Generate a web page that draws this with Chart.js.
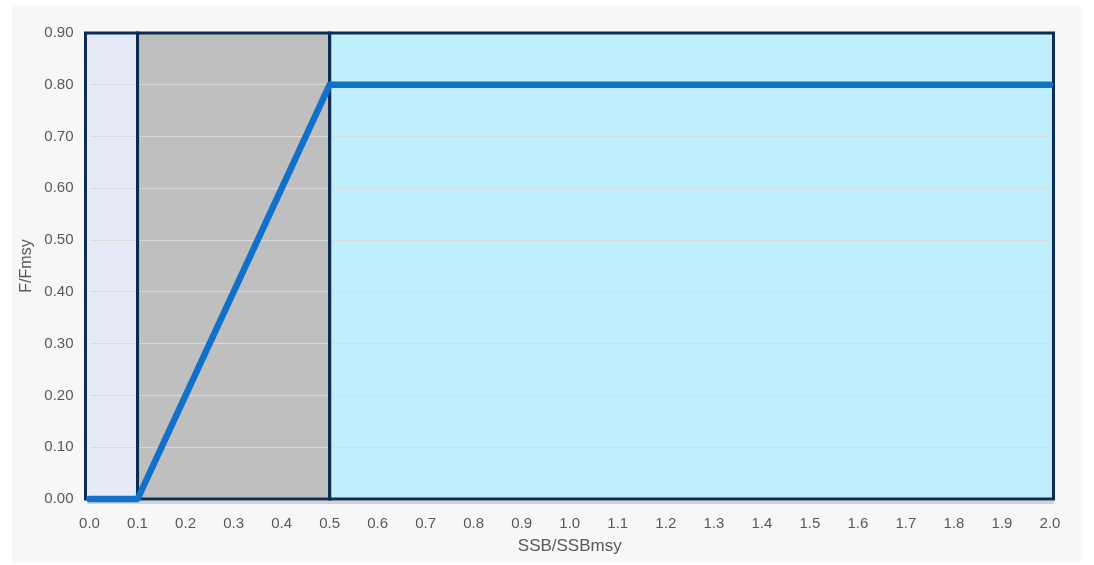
<!DOCTYPE html>
<html>
<head>
<meta charset="utf-8">
<script src="https://cdn.jsdelivr.net/npm/chart.js@4.4.0/dist/chart.umd.min.js"></script>
<style>
  html, body { margin: 0; padding: 0; background: #fff; }
  #wrap { width: 1094px; height: 565px; position: relative; }
</style>
</head>
<body>
<div id="wrap"><canvas id="hcrChart"></canvas></div>
<script>
// harvest control rule: F/Fmsy against SSB/SSBmsy
const ssbPoints = [0, 0.1, 0.5, 2.0];
const fPoints = [0, 0, 0.8, 0.8];

// shaded zones (SSB/SSBmsy ranges)
const zoneStart = [0, 0.1, 0.5];
const zoneEnd = [0.1, 0.5, 2.0];
const zoneColors = ['#E6EAF6', '#BFBFBF', '#BFEFFD'];

const yMax = 0.9;
const xMax = 2.0;

// outer zone edges sit a few px outside the first/last tick (excel style)
function zoneEdges(x, i) {
    let l = x.getPixelForValue(zoneStart[i]);
    let r = x.getPixelForValue(zoneEnd[i]);
    if (zoneStart[i] === 0) l -= 4;
    if (zoneEnd[i] === xMax) r += 3.5;
    return [l, r];
}

const zonesPlugin = {
    id: 'zones',
    beforeDraw(chart) {
        const ctx = chart.ctx;
        ctx.save();
        // faint panel background
        ctx.fillStyle = '#F7F7F7';
        ctx.fillRect(12, 6, 1070, 556);
        const x = chart.scales.x, y = chart.scales.y;
        const top = y.getPixelForValue(yMax), bottom = y.getPixelForValue(0);
        // soft shadow under the plot
        ctx.fillStyle = '#D2D2D2';
        ctx.fillRect(x.getPixelForValue(0) - 2, bottom + 2, x.getPixelForValue(xMax) - x.getPixelForValue(0) + 6, 3);
        for (let i = 0; i < zoneStart.length; i++) {
            const [l, r] = zoneEdges(x, i);
            ctx.fillStyle = zoneColors[i];
            ctx.fillRect(l, top, r - l, bottom - top);
        }
        ctx.restore();
    },
    beforeDatasetsDraw(chart) {
        const ctx = chart.ctx;
        const x = chart.scales.x, y = chart.scales.y;
        const top = y.getPixelForValue(yMax), bottom = y.getPixelForValue(0);
        ctx.save();
        ctx.strokeStyle = '#0C2C52';
        ctx.lineWidth = 3;
        for (let i = 0; i < zoneStart.length; i++) {
            const [l, r] = zoneEdges(x, i);
            ctx.strokeRect(l, top, r - l, bottom - top);
        }
        ctx.restore();
    }
};

const fontFamily = "'Liberation Sans', Arial, sans-serif";

new Chart(document.getElementById('hcrChart'), {
    type: 'line',
    data: {
        datasets: [{
            data: ssbPoints.map((v, i) => ({ x: v, y: fPoints[i] })),
            borderColor: '#1170C9',
            borderWidth: 6.5,
            borderCapStyle: 'round',
            borderJoinStyle: 'round',
            pointRadius: 0,
            fill: false,
            tension: 0,
            clip: false
        }]
    },
    options: {
        responsive: true,
        maintainAspectRatio: false,
        animation: false,
        layout: { padding: { left: 0, right: 44, top: 33, bottom: 4 } },
        plugins: { legend: { display: false }, tooltip: { enabled: false } },
        scales: {
            x: {
                type: 'linear',
                min: 0,
                max: xMax,
                ticks: {
                    stepSize: 0.1,
                    color: '#595959',
                    font: { family: fontFamily, size: 15 },
                    padding: 8,
                    maxRotation: 0,
                    autoSkip: false,
                    callback: v => v.toFixed(1)
                },
                grid: { display: false },
                border: { display: false },
                title: { display: true, text: 'SSB/SSBmsy', color: '#595959', font: { family: fontFamily, size: 17 }, padding: { top: 2, bottom: 4 } },
                afterFit(scale) { scale.height = 62; }
            },
            y: {
                min: 0,
                max: yMax,
                ticks: {
                    stepSize: 0.1,
                    color: '#595959',
                    font: { family: fontFamily, size: 15 },
                    padding: 16,
                    callback: v => v.toFixed(2)
                },
                grid: { color: '#D9D9D9', lineWidth: 1, drawTicks: false },
                border: { display: false },
                title: { display: true, text: 'F/Fmsy', color: '#595959', font: { family: fontFamily, size: 16 }, padding: { top: 17, bottom: 4 } },
                afterFit(scale) { scale.width = 89.5; }
            }
        }
    },
    plugins: [zonesPlugin]
});
</script>
</body>
</html>
